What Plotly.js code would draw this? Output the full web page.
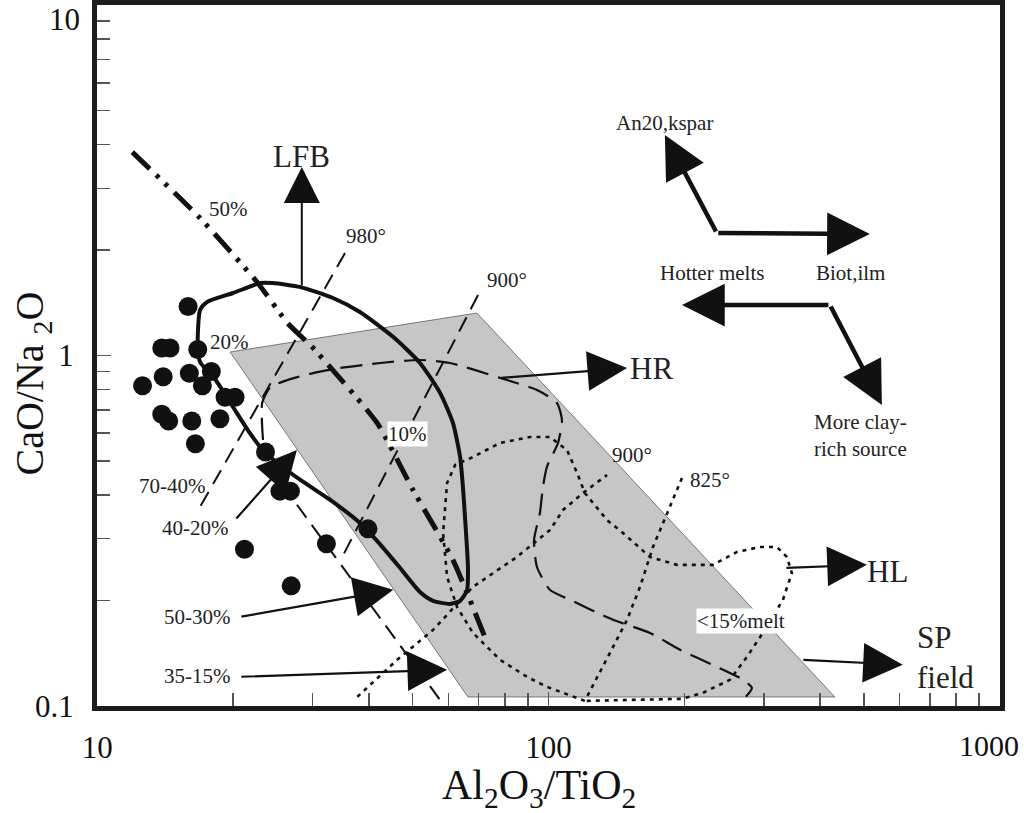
<!DOCTYPE html>
<html>
<head>
<meta charset="utf-8">
<script src="https://cdn.plot.ly/plotly-3.0.1.min.js"></script>
<style>html,body{margin:0;padding:0;background:#fff;}#chart{width:1024px;height:813px;}</style>
</head>
<body>
<div id="chart"></div>
<script>
// ---------- data (Al2O3/TiO2 vs CaO/Na2O) ----------
const sampleX = [15.9,13.9,14.5,16.7,12.6,14.0,16.0,17.9,17.1,19.2,20.2,13.9,14.4,16.2,18.7,16.5,23.6,25.4,26.8,39.8,21.2,32.2,26.9];
const sampleY = [1.38,1.05,1.05,1.04,0.82,0.87,0.89,0.90,0.82,0.76,0.76,0.68,0.65,0.65,0.66,0.56,0.53,0.41,0.41,0.32,0.28,0.29,0.22];

// shaded field
const fieldX = [19.7,69.4,431,66.3,19.7];
const fieldY = [1.023,1.322,0.106,0.106,1.023];

// thick solid boundary
const solidX = [16.9,16.7,16.9,17.5,20.0,22.96,24.5,28.2,33.3,38.2,45.3,51.9,57.5,61.4,63.7,64.7,65.3,66.3,66.0,63.7,60.5,55.5,51.9,46.9,41.7,38.2,33.3,28.2,25.4,23.6,21.8,19.9,18.3,16.9];
const solidY = [0.958,1.072,1.349,1.421,1.508,1.61,1.61,1.568,1.459,1.331,1.129,0.952,0.782,0.642,0.513,0.413,0.346,0.249,0.214,0.1994,0.1954,0.1994,0.2114,0.2475,0.2957,0.3327,0.382,0.4413,0.487,0.527,0.6,0.72,0.851,0.958];

// dash-dot-dot melt-fraction line
const ddX = [11.96,16.9,22.6,26.4,30.1,41.7,50.1,61.4,72.3];
const ddY = [3.807,2.468,1.621,1.238,1.05,0.642,0.413,0.261,0.157];

// dashed isotherms
const iso980X = [35.4,16.9], iso980Y = [1.96,0.37];
const iso900X = [69.8,34.9], iso900Y = [1.488,0.266];
const dash2X = [27.7,57.5], dash2Y = [0.375,0.104];

// long-dash curve (HR)
const longX = [23.3,23.2,24.2,26.4,30.1,34.5,42.4,51.9,60.5,78.1,94.3,104.4,107.1,105,99.2,97.2,95.7,92.9,94.3,100.8,111.6,139,167.8,195.6,236,269.7,282.3,273.8];
const longY = [0.574,0.732,0.813,0.851,0.891,0.921,0.952,0.971,0.952,0.863,0.797,0.732,0.655,0.563,0.481,0.421,0.355,0.298,0.249,0.214,0.2007,0.176,0.1615,0.1445,0.1292,0.1187,0.1125,0.1061];

// dotted loop (HL)
const loopX = [120.4,99.2,89.6,78.1,68.0,62.7,59.6,58.4,59.6,62.1,68.0,78.1,91.0,100.8,109.9,115.7,120.4,134.8,146.2,167.8,192.6,231.4,261.6,294,320.7,337.5,346.2,330.7,298.6,275.3,252.4,219.9,197.6,120.4];
const loopY = [0.1033,0.1133,0.121,0.1353,0.1615,0.1916,0.2333,0.3116,0.4326,0.487,0.513,0.563,0.585,0.585,0.537,0.462,0.405,0.339,0.3116,0.266,0.2526,0.2526,0.2749,0.284,0.284,0.266,0.2396,0.2007,0.1615,0.138,0.1187,0.1089,0.1047,0.1033];

// dotted 900° line
const dot900X = [37.7,46.2,55.5,68.0,85.1,100.8,107.7,119.2,134.8];
const dot900Y = [0.1061,0.1353,0.1647,0.2185,0.266,0.3177,0.3623,0.405,0.456];

// dotted 825° line
const dot825X = [197.6,183,170.4,159.5,149.3,136.8,121.7];
const dot825Y = [0.447,0.355,0.284,0.2185,0.176,0.1416,0.1061];

// arrows: [tailX, tailY, tipX, tipY]
const arrowLFB  = [28.4,1.568,28.4,3.45];
const arrowHR   = [78.1,0.863,149.3,0.921];
const arrowHL   = [334,0.2475,507.5,0.2526];
const arrowSP   = [364.3,0.1353,609.6,0.131];
const arrow4020 = [20.2,0.339,27.7,0.537];
const arrow5030 = [20.7,0.1794,45.3,0.2143];
const arrow3515 = [20.7,0.121,59.6,0.1267];
// bent thick arrows: [cornerX, cornerY, tip1X, tip1Y, tip2X, tip2Y]
const bentA = [236,2.236,181.1,4.258,515.4,2.222];
const bentB = [420.3,1.393,197.6,1.393,548,0.7226];

// ticks (the edge labels "1000" and "10" are set as text near the frame corners)
const xTicks = [10,100,1000], xTickText = ['10','100',''];
const yTicks = [0.1,1,10], yTickText = ['0.1','1',''];
const xEdgeLabel = '1000', yEdgeLabel = '10';
const xMinor = [20,30,40,50,60,70,80,90,200,300,400,500,600,700,800,900];
const yMinor = [0.2,0.3,0.4,0.5,0.6,0.7,0.8,0.9,2,3,4,5,6,7,8,9];

// ---------- plot ----------
const SERIF = 'Liberation Serif, Times New Roman, serif';
const L = Math.log10;
const traces = [
  {x: fieldX, y: fieldY, mode:'lines', fill:'toself', fillcolor:'#c6c6c6', line:{color:'#777', width:1}, hoverinfo:'skip'},
  {x: loopX, y: loopY, mode:'lines', line:{color:'#111', width:2.6, dash:'4px,5px'}},
  {x: dot900X, y: dot900Y, mode:'lines', line:{color:'#111', width:2.6, dash:'4px,5px'}},
  {x: dot825X, y: dot825Y, mode:'lines', line:{color:'#111', width:2.6, dash:'4px,5px'}},
  {x: longX, y: longY, mode:'lines', line:{color:'#111', width:2.2, dash:'22px,10px', shape:'spline', smoothing:0.6}},
  {x: iso980X, y: iso980Y, mode:'lines', line:{color:'#111', width:2, dash:'16px,9px'}},
  {x: iso900X, y: iso900Y, mode:'lines', line:{color:'#111', width:2, dash:'16px,9px'}},
  {x: dash2X, y: dash2Y, mode:'lines', line:{color:'#111', width:2, dash:'16px,9px'}},
  {x: ddX, y: ddY, mode:'lines', line:{color:'#111', width:5, dash:'24px,9px,4px,8px,4px,9px', shape:'spline', smoothing:0.5}},
  {x: solidX, y: solidY, mode:'lines', line:{color:'#111', width:4, shape:'spline', smoothing:0.6}},
  {x: sampleX, y: sampleY, mode:'markers', marker:{size:19, color:'#111'}}
];

function arr(a, w, s){
  return {x:L(a[2]), y:L(a[3]), ax:L(a[0]), ay:L(a[1]), xref:'x', yref:'y', axref:'x', ayref:'y',
    text:'', showarrow:true, arrowhead:2, arrowwidth:w, arrowsize:s, arrowcolor:'#111', standoff:0, startstandoff:0};
}
function bent(b){
  return [
    {x:L(b[2]), y:L(b[3]), ax:L(b[0]), ay:L(b[1]), xref:'x', yref:'y', axref:'x', ayref:'y', text:'', showarrow:true, arrowhead:2, arrowwidth:4.5, arrowsize:1.9, arrowcolor:'#111', standoff:0},
    {x:L(b[4]), y:L(b[5]), ax:L(b[0]), ay:L(b[1]), xref:'x', yref:'y', axref:'x', ayref:'y', text:'', showarrow:true, arrowhead:2, arrowwidth:4.5, arrowsize:1.9, arrowcolor:'#111', standoff:0}
  ];
}
function lab(t, x, y, size, opts){
  return Object.assign({x:L(x), y:L(y), xref:'x', yref:'y', text:t, showarrow:false, font:{family:SERIF, size:size, color:'#222'}}, opts||{});
}
const S = 21, B = 31;
const annotations = [
  arr(arrowLFB, 2, 3.6), arr(arrowHR, 2.2, 3.6), arr(arrowHL, 2.2, 3.6), arr(arrowSP, 2.2, 3.6),
  arr(arrow4020, 2.2, 3.6), arr(arrow5030, 2.2, 3.6), arr(arrow3515, 2.2, 3.6),
  ...bent(bentA), ...bent(bentB),
  lab('LFB', 28.4, 3.708, B),
  lab('50%', 19.5, 2.618, S),
  lab('20%', 19.6, 1.093, S),
  lab('10%', 48.6, 0.597, S, {bgcolor:'#fff', borderpad:0}),
  lab('980°', 39.4, 2.193, S),
  lab('900°', 80.9, 1.642, S),
  lab('900°', 153.1, 0.52, S),
  lab('825°', 228, 0.4413, S),
  lab('HR', 169.5, 0.921, B),
  lab('HL', 564.8, 0.2412, B),
  lab('&lt;15%melt', 266.9, 0.1748, S, {bgcolor:'#fff', borderpad:0}),
  lab('SP<br>field', 648, 0.1371, B, {xanchor:'left', align:'left'}),
  lab('70-40%', 14.66, 0.424, S),
  lab('40-20%', 16.48, 0.322, S),
  lab('50-30%', 16.65, 0.1794, S),
  lab('35-15%', 16.65, 0.1218, S),
  lab('An20,kspar', 181.1, 4.606, S),
  lab('Hotter melts', 230.2, 1.72, S),
  lab('Biot,ilm', 467.7, 1.72, S),
  lab('More clay-<br>rich source', 383.4, 0.593, S, {xanchor:'left', align:'left'}),
  // edge tick labels kept inside the page
  {xref:'paper', yref:'paper', x:1.0235, y:-0.057, xanchor:'right', yanchor:'middle', showarrow:false,
   text:xEdgeLabel, font:{family:SERIF, size:30, color:'#111'}},
  {xref:'paper', yref:'paper', x:-0.0166, y:0.979, xanchor:'right', yanchor:'middle', showarrow:false,
   text:yEdgeLabel, font:{family:SERIF, size:31, color:'#111'}},
  // axis titles
  {xref:'paper', yref:'paper', x:-0.072, y:0.46, xanchor:'center', yanchor:'middle', textangle:-90, showarrow:false,
   text:'CaO/Na <sub>2</sub>O', font:{family:SERIF, size:40, color:'#111'}},
  {xref:'paper', yref:'paper', x:0.489, y:-0.117, xanchor:'center', yanchor:'middle', showarrow:false,
   text:'Al<sub>2</sub>O<sub>3</sub>/TiO<sub>2</sub>', font:{family:SERIF, size:42, color:'#111'}}
];

const axisCommon = {
  type:'log', showgrid:false, zeroline:false,
  showline:true, mirror:true, linewidth:5, linecolor:'#1c1c1c',
  ticks:'inside', ticklen:14, tickwidth:1.5, tickcolor:'#555',
  tickfont:{family:SERIF, size:31, color:'#111'}
};

const layout = {
  width:1024, height:813,
  margin:{l:97, r:24, t:5, b:107},
  paper_bgcolor:'#fff', plot_bgcolor:'#fff',
  showlegend:false,
  xaxis: Object.assign({}, axisCommon, {
    range:[0.9995,3.0005], tickvals:xTicks, ticktext:xTickText, ticklabelstandoff:10,
    minor:{tickvals:xMinor, ticks:'inside', ticklen:13, tickwidth:1.5, tickcolor:'#555'}
  }),
  yaxis: Object.assign({}, axisCommon, {
    range:[-1.0005,1.0005], tickvals:yTicks, ticktext:yTickText, ticklabelstandoff:12,
    minor:{tickvals:yMinor, ticks:'inside', ticklen:13, tickwidth:1.5, tickcolor:'#555'}
  }),
  annotations: annotations
};

Plotly.newPlot('chart', traces, layout, {displayModeBar:false, staticPlot:true});
</script>
</body>
</html>
